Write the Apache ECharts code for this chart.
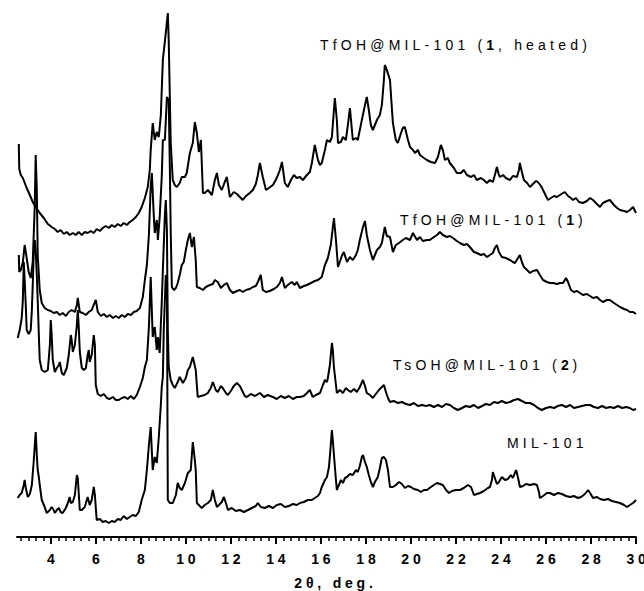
<!DOCTYPE html>
<html>
<head>
<meta charset="utf-8">
<script src="https://cdn.jsdelivr.net/npm/echarts@6/dist/echarts.min.js"></script>
<style>
  html, body { margin: 0; padding: 0; background: #fff; }
  #chart { width: 644px; height: 591px; }
  /* the original figure uses widely spaced lettering everywhere */
  #chart text { letter-spacing: 4.2px; }
  #chart text[style*="bold"] { letter-spacing: 3.8px; }
</style>
</head>
<body>
<div id="chart"></div>
<script>
// 2theta (deg) / intensity (arb. units, stacked)

// TfOH@MIL-101 (1, heated)
const heatedX = [2.58,2.6,2.67,2.76,2.93,3.07,3.2,3.33,3.51,3.69,3.87,4.04,4.18,4.31,4.44,4.58,4.71,4.84,4.98,5.11,5.24,5.38,5.51,5.64,5.78,5.91,6.04,6.18,6.31,6.44,6.58,6.71,6.84,6.98,7.11,7.24,7.38,7.51,7.64,7.78,7.91,8.04,8.18,8.31,8.4,8.44,8.53,8.62,8.71,8.8,8.89,8.98,9.11,9.2,9.24,9.33,9.42,9.51,9.6,9.73,9.82,9.96,10.04,10.18,10.31,10.4,10.49,10.58,10.67,10.76,10.84,10.98,11.16,11.29,11.38,11.47,11.6,11.73,11.82,11.96,12.13,12.27,12.4,12.53,12.67,12.84,12.98,13.11,13.2,13.29,13.42,13.56,13.69,13.87,14.04,14.18,14.27,14.4,14.53,14.67,14.8,14.93,15.07,15.2,15.38,15.51,15.6,15.73,15.87,15.96,16.04,16.18,16.27,16.4,16.49,16.62,16.71,16.76,16.89,16.98,17.11,17.2,17.29,17.42,17.56,17.64,17.73,17.82,17.96,18.04,18.13,18.22,18.31,18.4,18.49,18.62,18.71,18.8,18.84,18.93,19.07,19.16,19.2,19.33,19.42,19.56,19.64,19.73,19.87,19.96,20.09,20.18,20.31,20.4,20.58,20.71,20.89,21.07,21.2,21.33,21.42,21.51,21.64,21.73,21.91,22.04,22.22,22.35,22.49,22.67,22.8,22.93,23.11,23.24,23.38,23.51,23.64,23.73,23.82,23.91,23.96,24.09,24.22,24.4,24.53,24.71,24.8,24.84,24.93,25.02,25.16,25.29,25.42,25.56,25.64,25.78,25.87,26.0,26.09,26.22,26.36,26.49,26.62,26.76,26.84,26.98,27.11,27.2,27.33,27.47,27.64,27.82,27.96,28.09,28.22,28.4,28.53,28.71,28.84,29.02,29.16,29.29,29.47,29.6,29.73,29.87,30.0];
const heatedY = [393,368,362,359,349,342,335,330,324,319,313,310,308,305,307,303,305,302,304,302,305,302,305,304,306,304,308,306,309,311,309,312,310,313,311,314,312,315,317,320,324,330,339,350,367,387,414,397,405,400,422,477,504,524,497,394,357,352,350,354,360,360,364,384,394,415,404,385,397,344,344,347,342,357,364,352,347,355,360,340,345,343,340,337,341,344,347,353,362,374,360,347,349,352,359,367,375,354,350,357,362,359,360,357,362,365,374,392,377,372,374,387,397,395,400,439,417,394,395,400,397,412,429,397,399,397,407,417,432,440,427,412,407,412,417,422,432,457,472,467,457,427,414,397,394,404,409,410,397,390,387,384,387,382,379,377,375,374,380,392,387,377,379,374,369,364,364,367,362,360,362,357,359,357,354,357,355,362,370,362,360,362,359,357,361,360,367,374,365,357,354,350,353,356,355,351,347,341,337,339,341,340,342,344,345,341,339,337,339,335,334,336,339,337,334,330,334,336,337,332,329,327,326,325,327,330,324];

// TfOH@MIL-101 (1)
const tfohX = [2.58,2.6,2.67,2.76,2.84,2.93,3.02,3.11,3.2,3.29,3.33,3.38,3.42,3.51,3.6,3.73,3.87,4.0,4.13,4.27,4.4,4.53,4.67,4.8,4.93,5.07,5.16,5.2,5.29,5.42,5.56,5.69,5.82,5.96,6.0,6.09,6.22,6.36,6.49,6.62,6.76,6.89,7.02,7.16,7.29,7.42,7.56,7.69,7.82,7.96,8.09,8.18,8.27,8.36,8.44,8.49,8.58,8.62,8.71,8.76,8.84,8.93,8.98,9.07,9.16,9.24,9.29,9.33,9.38,9.47,9.56,9.64,9.73,9.82,9.91,10.0,10.09,10.18,10.27,10.36,10.44,10.49,10.62,10.76,10.89,11.07,11.2,11.29,11.42,11.56,11.69,11.82,11.96,12.09,12.27,12.4,12.53,12.67,12.84,12.98,13.11,13.2,13.33,13.42,13.56,13.73,13.91,14.04,14.18,14.27,14.4,14.53,14.71,14.84,14.93,15.07,15.24,15.38,15.56,15.73,15.87,16.04,16.18,16.31,16.44,16.58,16.67,16.76,16.84,16.93,17.02,17.16,17.29,17.42,17.56,17.64,17.73,17.87,17.96,18.04,18.18,18.31,18.4,18.49,18.62,18.71,18.8,18.84,18.93,19.07,19.2,19.33,19.47,19.64,19.78,19.96,20.09,20.27,20.4,20.53,20.71,20.84,21.02,21.16,21.29,21.42,21.6,21.73,21.87,22.04,22.18,22.35,22.49,22.62,22.8,22.93,23.11,23.24,23.38,23.51,23.64,23.73,23.82,23.91,24.04,24.22,24.4,24.53,24.62,24.76,24.84,24.93,25.02,25.16,25.29,25.42,25.6,25.73,25.87,26.04,26.18,26.31,26.49,26.62,26.76,26.89,26.98,27.11,27.24,27.38,27.51,27.64,27.82,27.96,28.09,28.27,28.4,28.53,28.71,28.84,29.02,29.16,29.29,29.47,29.6,29.73,29.87,30.0];
const tfohY = [282,265,267,275,292,279,265,259,275,332,382,347,282,247,234,229,227,226,224,225,222,224,221,225,227,225,232,239,225,224,222,225,227,235,237,225,221,223,220,222,219,221,219,222,220,223,222,225,226,229,240,257,272,302,350,364,320,304,317,297,320,360,397,397,440,437,370,304,250,247,249,254,262,272,275,287,297,304,290,300,277,250,249,247,250,252,253,257,255,249,252,254,247,244,246,247,245,247,248,250,251,255,262,247,245,246,248,250,254,260,249,252,255,252,255,249,251,252,254,256,257,260,272,279,292,319,297,270,275,281,285,275,280,277,282,287,297,310,316,302,287,277,282,287,290,294,305,310,301,300,285,292,294,297,299,297,304,297,300,296,297,297,300,302,305,302,300,301,299,296,294,292,293,290,285,284,282,283,280,282,284,289,292,285,280,279,277,275,274,279,282,275,270,267,264,266,267,262,257,255,254,254,253,254,254,259,255,247,245,246,244,242,243,241,239,240,237,235,237,237,234,232,230,228,227,225,225,223];

// TsOH@MIL-101 (2)
const tsohX = [2.53,2.62,2.71,2.76,2.8,2.84,2.89,2.93,3.02,3.11,3.16,3.2,3.24,3.29,3.33,3.38,3.42,3.47,3.51,3.6,3.73,3.87,3.96,4.0,4.04,4.09,4.18,4.27,4.36,4.4,4.49,4.58,4.71,4.8,4.89,4.93,4.98,5.07,5.16,5.2,5.24,5.29,5.38,5.47,5.56,5.64,5.69,5.73,5.82,5.91,5.96,6.0,6.09,6.22,6.36,6.49,6.62,6.76,6.89,7.02,7.16,7.29,7.42,7.56,7.69,7.82,7.96,8.09,8.18,8.27,8.36,8.44,8.53,8.62,8.71,8.76,8.84,8.93,8.98,9.07,9.11,9.16,9.2,9.24,9.33,9.42,9.51,9.64,9.73,9.87,10.0,10.09,10.18,10.31,10.44,10.53,10.67,10.84,10.98,11.11,11.2,11.33,11.42,11.56,11.64,11.78,11.87,12.0,12.13,12.27,12.4,12.49,12.62,12.71,12.89,13.07,13.29,13.47,13.64,13.87,14.04,14.22,14.4,14.58,14.76,14.93,15.07,15.24,15.38,15.51,15.64,15.78,15.96,16.09,16.18,16.27,16.31,16.4,16.49,16.53,16.58,16.67,16.71,16.84,16.98,17.11,17.2,17.33,17.47,17.6,17.73,17.87,17.96,18.04,18.18,18.31,18.44,18.58,18.71,18.8,18.89,18.98,19.07,19.24,19.42,19.6,19.78,19.96,20.13,20.31,20.49,20.67,20.84,21.02,21.2,21.38,21.56,21.73,21.91,22.09,22.27,22.44,22.62,22.8,22.98,23.16,23.33,23.51,23.69,23.87,24.04,24.22,24.4,24.58,24.76,24.93,25.11,25.29,25.47,25.64,25.82,26.0,26.18,26.36,26.53,26.71,26.89,27.07,27.24,27.42,27.6,27.78,27.96,28.13,28.31,28.49,28.67,28.84,29.02,29.2,29.38,29.56,29.73,29.87,30.0];
const tsohY = [199,207,219,237,275,257,232,207,203,207,227,252,282,297,287,262,237,202,177,167,165,167,192,217,202,177,165,169,172,175,164,162,169,182,202,197,185,192,212,227,212,185,169,167,169,182,187,175,182,202,192,152,143,141,143,139,138,140,137,137,139,140,138,141,138,142,150,159,170,177,210,260,200,210,187,200,184,234,267,322,337,307,207,170,157,152,149,155,160,154,159,167,170,180,167,140,141,142,144,149,155,147,145,151,149,144,142,146,151,154,151,147,141,140,143,141,144,140,142,140,138,141,139,141,138,140,140,141,144,147,140,142,144,152,157,155,159,172,194,187,170,152,144,147,144,149,147,145,148,145,150,157,151,144,142,139,143,147,150,152,145,139,135,136,134,135,133,132,134,131,132,131,132,130,132,130,133,132,129,127,129,131,130,132,129,131,133,132,135,134,136,134,135,137,138,136,134,134,132,129,127,129,130,129,131,132,130,132,129,130,131,132,132,130,129,131,129,130,129,131,129,130,129,127,128];

// MIL-101
const milX = [2.53,2.62,2.71,2.8,2.84,2.89,2.98,3.07,3.16,3.24,3.33,3.38,3.42,3.47,3.51,3.6,3.73,3.82,3.96,4.04,4.13,4.18,4.27,4.36,4.44,4.53,4.67,4.76,4.84,4.89,4.98,5.07,5.16,5.2,5.29,5.38,5.51,5.6,5.64,5.73,5.82,5.91,5.96,6.04,6.18,6.31,6.44,6.58,6.71,6.84,6.98,7.11,7.24,7.38,7.51,7.64,7.78,7.91,8.04,8.18,8.27,8.36,8.44,8.53,8.62,8.71,8.8,8.89,8.93,8.98,9.02,9.07,9.11,9.16,9.2,9.29,9.42,9.56,9.64,9.73,9.82,9.96,10.09,10.22,10.31,10.4,10.44,10.49,10.62,10.71,10.84,10.98,11.11,11.2,11.29,11.38,11.47,11.6,11.69,11.78,11.87,12.04,12.22,12.4,12.58,12.76,12.93,13.11,13.2,13.33,13.51,13.69,13.87,14.04,14.22,14.4,14.58,14.76,14.93,15.07,15.24,15.42,15.6,15.73,15.87,15.96,16.04,16.18,16.27,16.36,16.44,16.49,16.53,16.58,16.67,16.71,16.8,16.89,16.98,17.07,17.16,17.29,17.42,17.56,17.64,17.73,17.82,17.87,17.96,18.04,18.13,18.22,18.31,18.4,18.53,18.62,18.71,18.8,18.89,18.98,19.07,19.2,19.33,19.47,19.6,19.73,19.87,20.0,20.13,20.31,20.44,20.58,20.71,20.89,21.02,21.16,21.29,21.42,21.56,21.69,21.82,22.0,22.18,22.35,22.53,22.67,22.8,22.93,23.07,23.24,23.42,23.51,23.6,23.64,23.73,23.82,23.91,24.04,24.18,24.31,24.44,24.53,24.67,24.71,24.8,24.84,24.98,25.11,25.29,25.47,25.6,25.69,25.73,25.87,26.04,26.18,26.36,26.53,26.71,26.89,27.07,27.24,27.42,27.56,27.73,27.87,27.96,28.09,28.27,28.4,28.58,28.76,28.93,29.11,29.29,29.47,29.6,29.73,29.87,30.0];
const milY = [39,42,44,52,57,49,40,43,52,75,105,82,67,60,52,37,30,24,27,30,27,24,27,29,25,24,29,34,40,34,35,42,62,59,27,27,30,37,40,32,37,50,42,17,18,15,16,14,16,15,18,17,21,18,20,22,21,25,37,47,67,92,110,67,80,74,100,132,150,160,207,237,262,257,37,34,34,42,54,49,47,54,64,67,95,77,67,34,31,29,32,34,37,47,37,30,32,35,40,34,27,29,26,27,25,27,29,31,34,30,29,31,29,32,33,30,31,33,32,34,35,37,37,39,41,44,50,57,60,70,92,107,97,82,57,47,52,57,54,59,60,63,62,67,65,71,80,82,75,70,62,55,50,55,60,69,79,80,77,67,50,50,52,55,53,49,51,50,48,47,45,47,47,50,52,54,53,52,47,44,46,47,47,49,52,50,42,43,44,46,49,50,57,65,59,53,55,60,57,58,62,59,67,64,55,50,51,53,52,53,52,45,39,41,44,44,42,44,43,41,40,41,39,40,43,47,44,39,40,38,37,38,36,35,34,32,30,32,34,37];

const tickValues = [4, 6, 8, 10, 12, 14, 16, 18, 20, 22, 24, 26, 28, 30];
const xTitle = '2θ, deg.';

// minor ticks every 1/3 degree
const minorValues = [];
for (let k = 8; k <= 90; k++) {
  if (k % 6 !== 0) minorValues.push(k / 3);
}

const FONT = '"Liberation Sans", Arial, sans-serif';
const SPACING = 4.2;
const SPACING_BOLD = 3.8;

function zip(xs, ys) {
  return xs.map(function (x, i) { return [x, ys[i]]; });
}

// width of a text piece including the css letter spacing
function pieceWidth(s, font, spacing) {
  const ctx = document.createElement('canvas').getContext('2d');
  ctx.font = font;
  ctx.letterSpacing = spacing + 'px';
  return ctx.measureText(s).width;
}

// label made of plain / bold pieces, placed left to right
function label(parts, x, y) {
  const els = [];
  let cx = x;
  parts.forEach(function (p) {
    const font = (p[1] ? 'bold ' : '') + '14px ' + FONT;
    els.push({
      type: 'text',
      x: cx,
      y: y,
      style: { text: p[0], font: font, fill: '#000', textAlign: 'left', textVerticalAlign: 'middle' }
    });
    cx += pieceWidth(p[0], font, p[1] ? SPACING_BOLD : SPACING);
  });
  return els;
}

function trace(name, xs, ys) {
  return {
    name: name,
    type: 'line',
    xAxisIndex: 0,
    data: zip(xs, ys),
    showSymbol: false,
    symbol: 'none',
    lineStyle: { color: '#000', width: 2 },
    animation: false
  };
}

const chart = echarts.init(document.getElementById('chart'), null, { renderer: 'svg' });

chart.setOption({
  backgroundColor: '#fff',
  animation: false,
  grid: { left: 17, right: 8, top: 0, bottom: 54, outerBoundsMode: 'none' },
  xAxis: [
    {
      type: 'value',
      min: 2.5,
      max: 30,
      axisLine: { lineStyle: { color: '#000', width: 2 } },
      axisTick: { customValues: tickValues, length: 7, lineStyle: { color: '#000', width: 2 } },
      axisLabel: {
        customValues: tickValues,
        color: '#000',
        fontWeight: 'bold',
        fontSize: 14,
        fontFamily: FONT,
        margin: 15,
        padding: [0, 0, 0, 4]
      },
      splitLine: { show: false },
      name: xTitle,
      nameLocation: 'middle',
      nameGap: 39,
      nameTextStyle: {
        color: '#000', fontWeight: 'bold', fontSize: 14, fontFamily: FONT,
        padding: [0, 0, 0, 18]
      }
    },
    {
      type: 'value',
      min: 2.5,
      max: 30,
      position: 'bottom',
      axisLine: { show: false },
      axisTick: { customValues: minorValues, length: 4, lineStyle: { color: '#000', width: 1.5 } },
      axisLabel: { show: false },
      splitLine: { show: false }
    }
  ],
  yAxis: { type: 'value', min: 0, max: 537, show: false },
  graphic: [].concat(
    label([['TfOH@MIL-101 (', false], ['1', true], [', heated)', false]], 320, 45),
    label([['TfOH@MIL-101 (', false], ['1', true], [')', false]], 400, 220),
    label([['TsOH@MIL-101 (', false], ['2', true], [')', false]], 393, 365),
    label([['MIL-101', false]], 507, 443)
  ),
  series: [
    trace('TfOH@MIL-101 (1, heated)', heatedX, heatedY),
    trace('TfOH@MIL-101 (1)', tfohX, tfohY),
    trace('TsOH@MIL-101 (2)', tsohX, tsohY),
    trace('MIL-101', milX, milY)
  ]
});
</script>
</body>
</html>
